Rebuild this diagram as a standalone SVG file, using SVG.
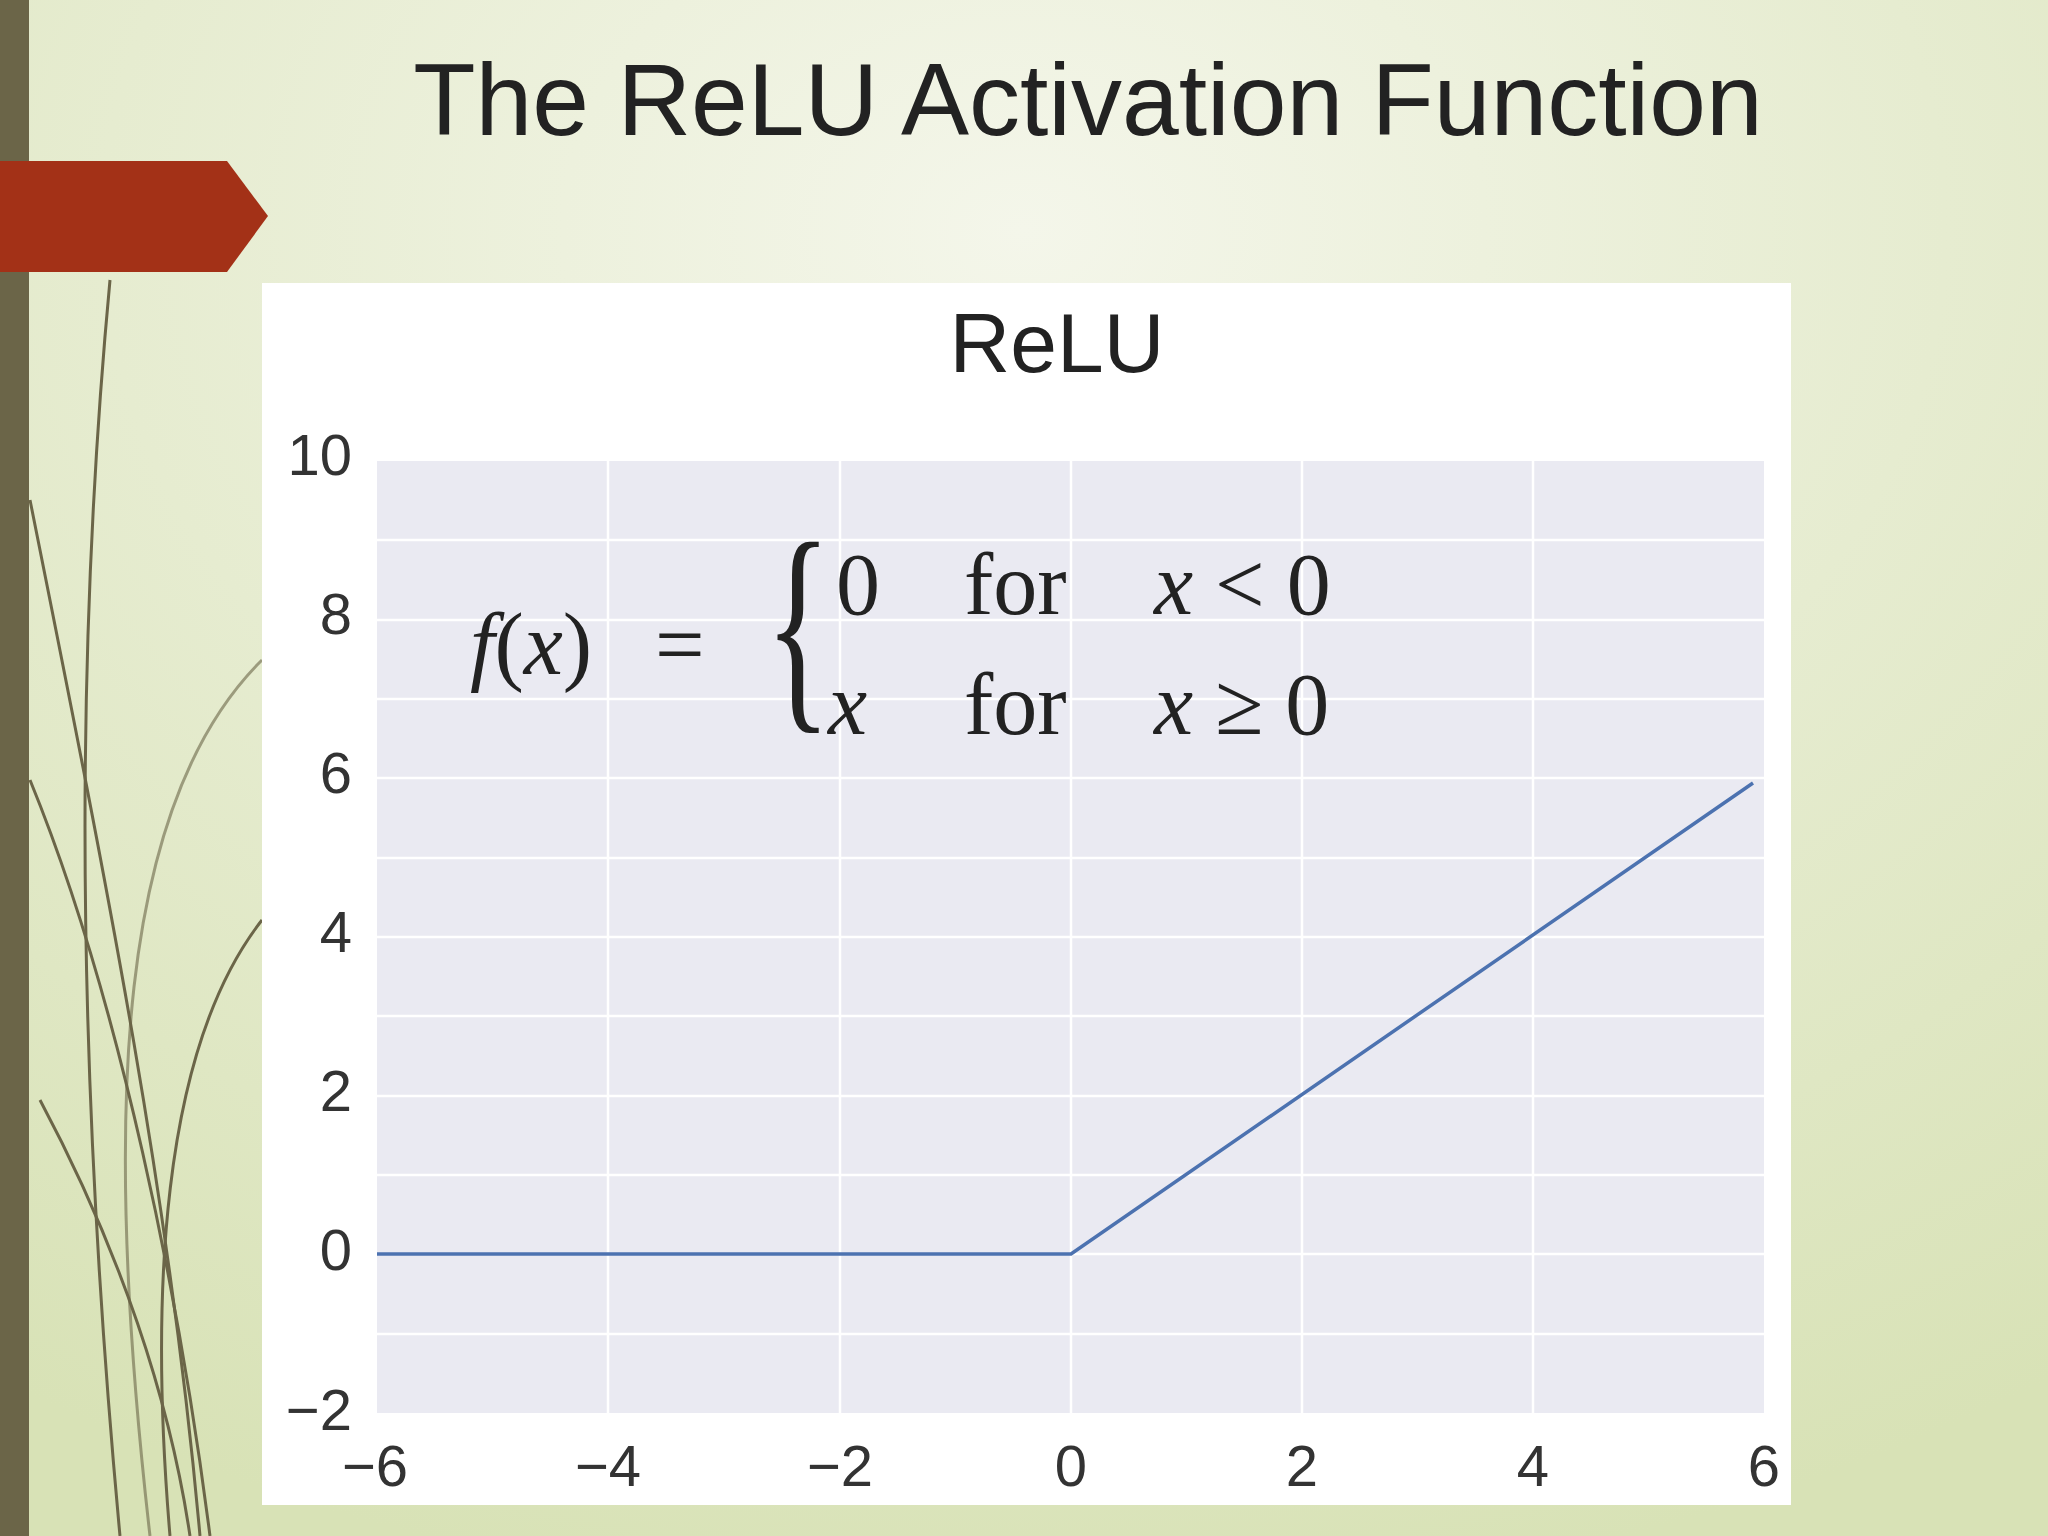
<svg xmlns="http://www.w3.org/2000/svg" width="2048" height="1536" viewBox="0 0 2048 1536">
<defs>
<radialGradient id="bg" cx="0.5" cy="0.15" r="0.9">
<stop offset="0" stop-color="#f4f6ea"/><stop offset="1" stop-color="#d8e2b6"/>
</radialGradient>
<style>
.grid{stroke:#ffffff;stroke-width:2.5}
.tick{font-family:"Liberation Sans",Arial,sans-serif;font-size:58px;fill:#333}
.math{font-family:"Liberation Serif","DejaVu Serif",serif;font-size:88px;fill:#222}
.deco{fill:none;stroke:#6b6548;stroke-width:3}
</style>
</defs>
<rect width="2048" height="1536" fill="url(#bg)"/>
<g id="decoration">
<path class="deco" d="M110 280 C80 600 70 1000 120 1536"/>
<path class="deco" d="M30 500 C110 900 170 1200 200 1536"/>
<path class="deco" d="M30 780 C120 1000 180 1300 210 1536"/>
<path class="deco" d="M262 920 C160 1050 150 1300 170 1536" stroke-width="2"/>
<path class="deco" d="M262 660 C120 800 100 1100 150 1536" stroke-width="2" opacity="0.6"/>
<path class="deco" d="M40 1100 C120 1250 170 1400 190 1536"/>
<rect x="0" y="0" width="29" height="1536" fill="#6b6548"/>
<polygon points="0,161 227,161 268,216 227,272 0,272" fill="#a33117"/>
</g>
<text x="1088" y="135" text-anchor="middle" font-family="Liberation Sans,Arial,sans-serif" font-size="102" fill="#222">The ReLU Activation Function</text>
<g id="chart">
<rect x="262" y="283" width="1529" height="1222" fill="#fff"/>
<text x="1057" y="372" text-anchor="middle" font-family="Liberation Sans,Arial,sans-serif" font-size="84" fill="#222">ReLU</text>
<rect x="377" y="461" width="1387" height="952" fill="#eaeaf2"/>
<g class="grid">
<line x1="608" y1="461" x2="608" y2="1413"/><line x1="840" y1="461" x2="840" y2="1413"/>
<line x1="1071" y1="461" x2="1071" y2="1413"/><line x1="1302" y1="461" x2="1302" y2="1413"/>
<line x1="1533" y1="461" x2="1533" y2="1413"/>
<line x1="377" y1="1334" x2="1764" y2="1334"/><line x1="377" y1="1254" x2="1764" y2="1254"/>
<line x1="377" y1="1175" x2="1764" y2="1175"/><line x1="377" y1="1096" x2="1764" y2="1096"/>
<line x1="377" y1="1016" x2="1764" y2="1016"/><line x1="377" y1="937" x2="1764" y2="937"/>
<line x1="377" y1="858" x2="1764" y2="858"/><line x1="377" y1="778" x2="1764" y2="778"/>
<line x1="377" y1="699" x2="1764" y2="699"/><line x1="377" y1="620" x2="1764" y2="620"/>
<line x1="377" y1="540" x2="1764" y2="540"/>
</g>
<polyline points="377,1254 1071,1254 1753,783" fill="none" stroke="#4c72b0" stroke-width="3.5"/>
<g class="tick" text-anchor="end">
<text x="352" y="475">10</text><text x="352" y="634">8</text><text x="352" y="793">6</text>
<text x="352" y="952">4</text><text x="352" y="1111">2</text><text x="352" y="1270">0</text>
<text x="352" y="1430">−2</text>
</g>
<g class="tick" text-anchor="middle">
<text x="375" y="1486">−6</text><text x="608" y="1486">−4</text><text x="840" y="1486">−2</text>
<text x="1071" y="1486">0</text><text x="1302" y="1486">2</text><text x="1533" y="1486">4</text>
<text x="1764" y="1486">6</text>
</g>
<g class="math">
<text x="470" y="674"><tspan font-style="italic">f</tspan>(<tspan font-style="italic">x</tspan>)</text>
<text x="655" y="674">=</text>
<text x="1275" y="702" font-size="230" transform="scale(0.6,1)">{</text>
<text x="836" y="614">0</text><text x="964" y="614">for</text><text x="1154" y="614"><tspan font-style="italic">x</tspan> &lt; 0</text>
<text x="828" y="734" font-style="italic">x</text><text x="964" y="734">for</text><text x="1154" y="734"><tspan font-style="italic">x</tspan> ≥ 0</text>
</g>
</g>
</svg>
